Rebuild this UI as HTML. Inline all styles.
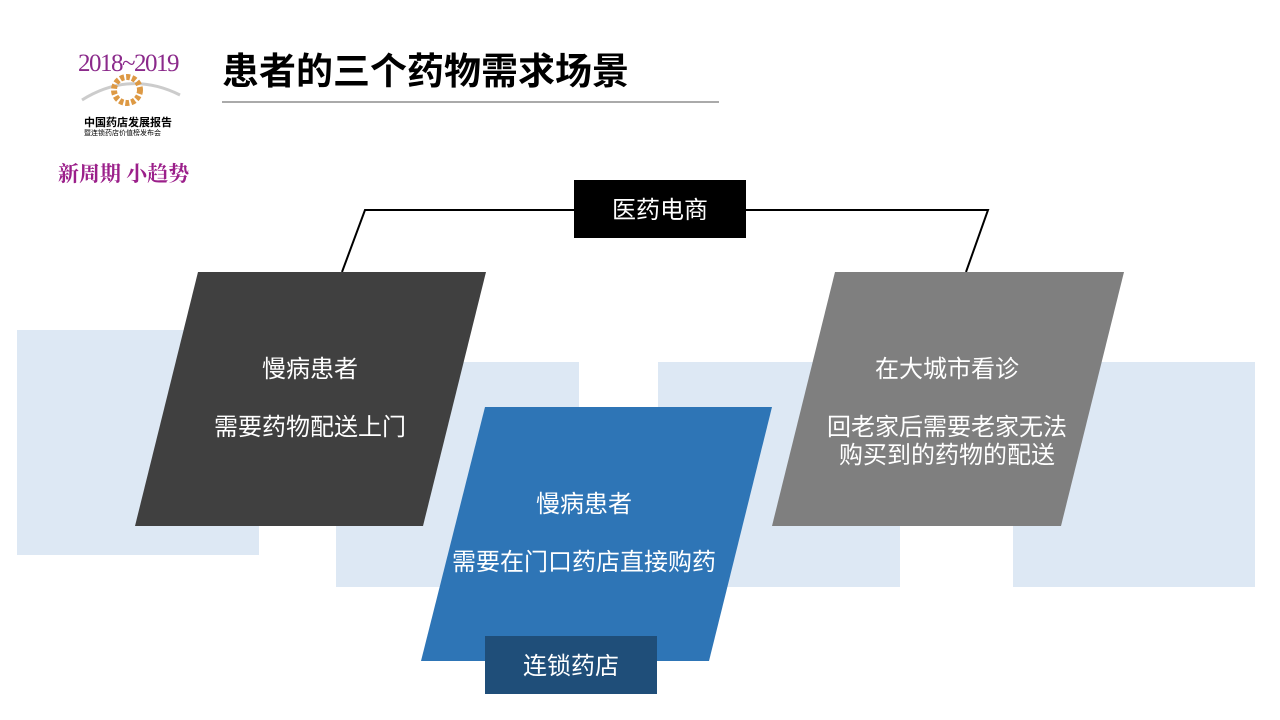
<!DOCTYPE html><html><head><meta charset="utf-8"><style>
body{margin:0;width:1280px;height:720px;position:relative;background:#fff;font-family:"Liberation Sans","Noto Sans CJK SC",sans-serif;overflow:hidden}
.a{position:absolute}
.t{position:absolute;color:#fff;font-size:24px;line-height:28px;text-align:center;white-space:nowrap}
</style></head><body>
<svg class="a" style="left:0;top:0" width="1280" height="720">
<rect x="17" y="330" width="242" height="225" fill="#dde8f4"/>
<rect x="336" y="362" width="243" height="225" fill="#dde8f4"/>
<rect x="658" y="362" width="242" height="225" fill="#dde8f4"/>
<rect x="1013" y="362" width="242" height="225" fill="#dde8f4"/>
<polyline points="342,272 365,210 575,210" fill="none" stroke="#000" stroke-width="2"/>
<polyline points="746,210 988,210 966,272" fill="none" stroke="#000" stroke-width="2"/>
<polygon points="198,272 486,272 423,526 135,526" fill="#404040"/>
<polygon points="835,272 1124,272 1061,526 772,526" fill="#7f7f7f"/>
<polygon points="485,407 772,407 709,661 421,661" fill="#2e75b6"/>
<rect x="574" y="180" width="172" height="58" fill="#000"/>
<rect x="485" y="636" width="172" height="58" fill="#1f4e79"/>
<line x1="222" y1="102" x2="719" y2="102" stroke="#555" stroke-width="1"/>
<path d="M82,100 Q130,70 180,95" fill="none" stroke="#ccc" stroke-width="3"/>
<circle cx="127" cy="90" r="13" fill="none" stroke="#d94" stroke-width="6" stroke-dasharray="4 2"/>
</svg>
<div class="a" style="left:222px;top:50px;font-size:37px;line-height:44px;font-weight:bold;color:#000">患者的三个药物需求场景</div>
<div class="a" style="left:78px;top:50px;font-family:'Liberation Serif',serif;font-size:25px;color:#8b2a8b;letter-spacing:-1.5px">2018~2019</div>
<div class="a" style="left:84px;top:114px;font-size:11px;font-weight:bold;color:#000">中国药店发展报告</div>
<div class="a" style="left:84px;top:128px;font-size:7px;color:#000">暨连锁药店价值榜发布会</div>
<div class="a" style="left:58px;top:158px;font-size:21px;color:#9b1f8a;font-family:'Noto Serif CJK SC',serif;font-weight:bold">新周期 小趋势</div>
<div class="t" style="left:574px;top:197px;width:172px">医药电商</div>
<div class="t" style="left:485px;top:653px;width:172px">连锁药店</div>
<div class="t" style="left:160px;top:356px;width:300px">慢病患者</div>
<div class="t" style="left:160px;top:414px;width:300px">需要药物配送上门</div>
<div class="t" style="left:797px;top:356px;width:300px">在大城市看诊</div>
<div class="t" style="left:797px;top:414px;width:300px">回老家后需要老家无法<br>购买到的药物的配送</div>
<div class="t" style="left:434px;top:491px;width:300px">慢病患者</div>
<div class="t" style="left:434px;top:549px;width:300px">需要在门口药店直接购药</div>
</body></html>
